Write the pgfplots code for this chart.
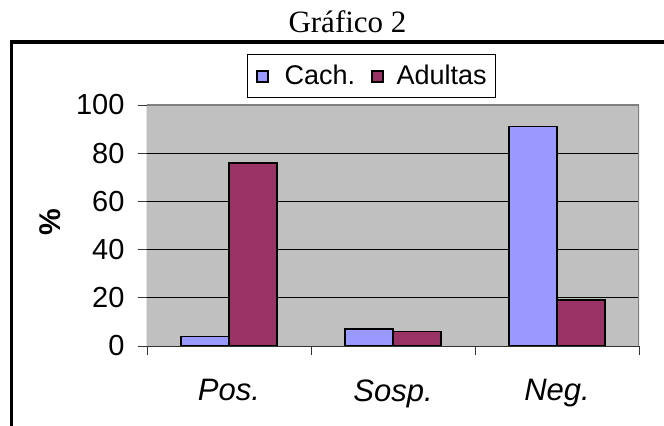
\documentclass[border=0pt]{standalone}
\usepackage{fontspec}
\setmainfont{Liberation Sans}
\newfontfamily\serif{Liberation Serif}
\usepackage{pgfplots}
\pgfplotsset{compat=1.18}
\definecolor{cach}{HTML}{9999FF}
\definecolor{adul}{HTML}{993366}
\definecolor{bg}{HTML}{C0C0C0}
\begin{document}
\begin{tikzpicture}
\begin{axis}[
  at={(0,0)}, anchor=south west,
  scale only axis, width=492bp, height=241bp,
  xmin=-0.5, xmax=2.5, ymin=0, ymax=100, enlargelimits=false,
  ytick={0,20,...,100},
  xtick={-0.5,0.5,1.5,2.5}, xticklabels={},
  extra x ticks={0,1,2}, extra x tick labels={Pos.,Sosp.,Neg.},
  extra x tick style={major tick length=0pt},
  xtick pos=bottom, ytick pos=left,
  tick align=outside, major tick length=9bp,
  tick style={black!80, line width=0.8bp},
  axis background/.style={fill=bg},
  ymajorgrids, grid style={black, line width=0.8bp},
  axis line style={draw=none},
  ybar=0pt, bar width=48bp,
  /pgf/number format/assume math mode=true,
  yticklabel style={font=\fontsize{29bp}{29bp}\selectfont, xshift=-10bp},
  xticklabel style={font=\fontsize{31bp}{31bp}\selectfont\itshape, yshift=-30bp},
  legend columns=2,
  legend style={at={(0.2033,1.2116)}, anchor=north west, draw=black, line width=0.8bp,
    inner xsep=9bp, inner ysep=11bp,
    font=\fontsize{27bp}{29bp}\selectfont,
    nodes={inner sep=0pt},
    /tikz/column 1/.style={column sep=16bp},
    /tikz/column 2/.style={column sep=16bp},
    /tikz/column 3/.style={column sep=13bp}},
  legend image code/.code={\draw[#1, line width=1.3bp] (0bp,-6bp) rectangle (11bp,5bp);},
]
\addplot[fill=cach, draw=black, line width=1.5bp] coordinates {(0,4) (1,7) (2,91)};
\addplot[fill=adul, draw=black, line width=1.5bp] coordinates {(0,76) (1,6) (2,19)};
\legend{Cach.,Adultas}
\draw[black!50, line width=1.2bp] (rel axis cs:0,1) -- (rel axis cs:1,1) -- (rel axis cs:1,0);
\draw[black!80, line width=1bp] (rel axis cs:0,1) -- (rel axis cs:0,0) -- (rel axis cs:1,0);
\end{axis}
\node[font=\serif\fontsize{31bp}{32bp}\selectfont, anchor=base] at (200.5bp,313bp) {Gráfico 2};
\node[font=\bfseries\fontsize{30bp}{30bp}\selectfont, rotate=90] at (-97bp,124bp) {\%};
\draw[line width=3.5bp] (-135.5bp,-100bp) rectangle (560bp,304bp);
\pgfresetboundingbox
\useasboundingbox (-147bp,-80bp) rectangle (517bp,346bp);
\end{tikzpicture}
\end{document}
